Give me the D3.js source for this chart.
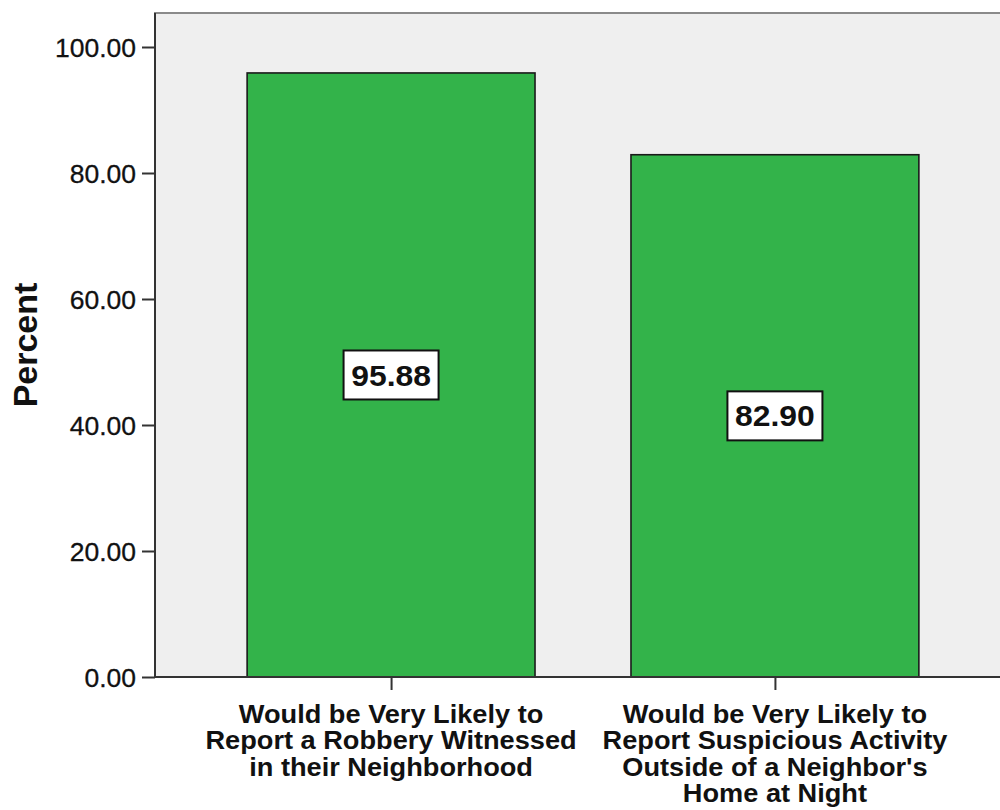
<!DOCTYPE html>
<html>
<head>
<meta charset="utf-8">
<script src="https://cdn.jsdelivr.net/npm/d3@7"></script>
<style>
  html, body { margin: 0; padding: 0; background: #ffffff; }
  svg { display: block; }
</style>
</head>
<body>
<svg id="chart" width="1000" height="810"></svg>
<script>
const categories = [
  ["Would be Very Likely to", "Report a Robbery Witnessed", "in their Neighborhood"],
  ["Would be Very Likely to", "Report Suspicious Activity", "Outside of a Neighbor's", "Home at Night"]
];
const values = [95.88, 82.90];
const valueLabels = ["95.88", "82.90"];
const yTicks = [0, 20, 40, 60, 80, 100];
const yTickLabels = ["0.00", "20.00", "40.00", "60.00", "80.00", "100.00"];
const yTitle = "Percent";

(function () {
const svg = d3.select("#chart");
const pLeft = 155, pTop = 13, pRight = 1012, pBottom = 677;
const font = "'Liberation Sans', Arial, sans-serif";

const y = d3.scaleLinear().domain([0, 100]).range([677, 47]);
const x = d3.scaleBand().domain(d3.range(values.length))
  .range([pLeft, 1011]).paddingInner(0.25).paddingOuter(0.24);

// plot background and frame
svg.append("rect").attr("x", pLeft).attr("y", pTop)
  .attr("width", pRight - pLeft).attr("height", pBottom - pTop)
  .attr("fill", "#efefef").attr("stroke", "#8a8a8a").attr("stroke-width", 2);

// bars
svg.append("g").selectAll("rect").data(values).join("rect")
  .attr("x", (d, i) => x(i))
  .attr("y", d => y(d))
  .attr("width", x.bandwidth())
  .attr("height", d => y(0) - y(d))
  .attr("fill", "#33b34a")
  .attr("stroke", "#1a1a1a").attr("stroke-width", 1.6);

// axes lines
svg.append("line").attr("x1", pLeft).attr("x2", pLeft).attr("y1", pTop).attr("y2", pBottom + 1)
  .attr("stroke", "#333").attr("stroke-width", 2);
svg.append("line").attr("x1", pLeft).attr("x2", pRight).attr("y1", pBottom).attr("y2", pBottom)
  .attr("stroke", "#333").attr("stroke-width", 2);

// y axis
const yAxis = d3.axisLeft(y).tickValues(yTicks)
  .tickFormat((d, i) => yTickLabels[i]).tickSize(13).tickPadding(6);
const gy = svg.append("g").attr("transform", `translate(${pLeft},0)`).call(yAxis);
gy.select(".domain").remove();
gy.selectAll(".tick line").attr("stroke", "#333").attr("stroke-width", 2);
gy.selectAll(".tick text").attr("font-family", font).attr("font-size", 26.5)
  .attr("fill", "#111").attr("dy", "0.36em")
  .attr("stroke", "#111").attr("stroke-width", 0.3);

// x axis ticks
const xAxis = d3.axisBottom(d3.scalePoint().domain(d3.range(values.length))
  .range([x(0) + x.bandwidth() / 2, x(1) + x.bandwidth() / 2]))
  .tickSize(13).tickFormat("");
const gx = svg.append("g").attr("transform", `translate(0,${pBottom})`).call(xAxis);
gx.select(".domain").remove();
gx.selectAll(".tick line").attr("stroke", "#333").attr("stroke-width", 2);

// category labels
const catG = svg.append("g");
categories.forEach((lines, i) => {
  const g = catG.append("g")
    .attr("transform", `translate(${x(i) + x.bandwidth() / 2},0) scale(1.066,1)`);
  const t = g.append("text")
    .attr("x", 0)
    .attr("y", 723)
    .attr("text-anchor", "middle")
    .attr("font-family", font).attr("font-weight", "bold")
    .attr("font-size", 25.5).attr("fill", "#111");
  lines.forEach((ln, j) => {
    t.append("tspan").attr("x", 0)
      .attr("y", 723 + j * 26.3).text(ln);
  });
});

// value labels
const boxW = 95, boxH = 49;
const lab = svg.append("g").selectAll("g").data(values).join("g")
  .attr("transform", (d, i) => `translate(${x(i) + x.bandwidth() / 2},${y(d / 2)})`);
lab.append("rect").attr("x", -boxW / 2).attr("y", -boxH / 2)
  .attr("width", boxW).attr("height", boxH)
  .attr("fill", "#ffffff").attr("stroke", "#111").attr("stroke-width", 2);
lab.append("text").attr("text-anchor", "middle").attr("dy", "0.36em")
  .attr("transform", "scale(1.08,1)")
  .attr("font-family", font).attr("font-weight", "bold").attr("font-size", 29.5)
  .attr("fill", "#111")
  .text((d, i) => valueLabels[i]);

// y title
svg.append("text")
  .attr("transform", `translate(37,345) rotate(-90)`)
  .attr("text-anchor", "middle")
  .attr("font-family", font).attr("font-weight", "bold").attr("font-size", 34)
  .attr("fill", "#111").text(yTitle);
})();
</script>
</body>
</html>
